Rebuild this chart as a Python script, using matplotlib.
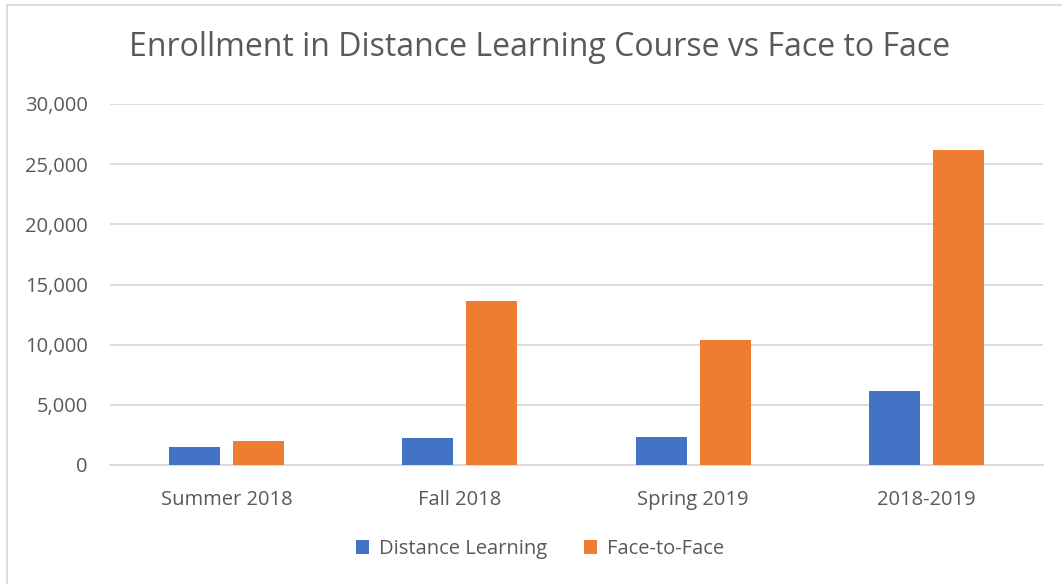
import numpy as np
import matplotlib
matplotlib.use("Agg")
import matplotlib.pyplot as plt
from matplotlib.lines import Line2D
from matplotlib.ticker import FuncFormatter

terms = ["Summer 2018", "Fall 2018", "Spring 2019", "2018-2019"]
distance = [1520, 2270, 2300, 6180]
face_to_face = [2020, 13650, 10390, 26180]
series_names = ["Distance Learning", "Face-to-Face"]

plt.rcParams['font.family'] = ['Open Sans', 'DejaVu Sans']

fig = plt.figure(figsize=(10.62, 5.84), dpi=100)
ax = fig.add_axes([110 / 1062, 1 - 465 / 584, (1043 - 110) / 1062, (465 - 104) / 584])

x = np.arange(len(terms))
w = 0.219
off = 0.137
ax.bar(x - off, distance, w, color='#4472C4', label=series_names[0], zorder=3)
ax.bar(x + off, face_to_face, w, color='#ED7D31', label=series_names[1], zorder=3)

ax.set_xlim(-0.5, len(terms) - 0.5)
ax.set_ylim(0, 30000)
ax.set_yticks(range(0, 30001, 5000))
ax.yaxis.set_major_formatter(FuncFormatter(lambda v, p: f"{int(v):,}"))
ax.set_xticks(x)
ax.set_xticklabels(terms)
ax.grid(axis='y', color='#D9D9D9', linewidth=1.3, zorder=0)
for s in ['top', 'right', 'left']:
    ax.spines[s].set_visible(False)
ax.spines['bottom'].set_color('#D9D9D9')
ax.spines['bottom'].set_linewidth(1.3)
ax.tick_params(axis='both', length=0, labelsize=14.5, colors='#595959')
ax.tick_params(axis='y', pad=16)
ax.tick_params(axis='x', pad=18)

fig.text(0.5085, 1 - 47 / 584, "Enrollment in Distance Learning Course vs Face to Face",
         ha='center', va='center', fontsize=23, color='#595959')

ax.legend(loc='center', bbox_to_anchor=(0.5085, 1 - 549 / 584), bbox_transform=fig.transFigure,
          ncol=2, frameon=False, fontsize=14.5, labelcolor='#595959',
          handlelength=0.65, handleheight=0.65, handletextpad=0.5, columnspacing=1.8)

# chart border (top and left edges visible)
fig.add_artist(Line2D([7 / 1062, 7 / 1062], [0, 1 - 5 / 584], color='#D9D9D9', lw=1.3))
fig.add_artist(Line2D([7 / 1062, 1], [1 - 5 / 584, 1 - 5 / 584], color='#D9D9D9', lw=1.3))

fig.savefig("out.png", dpi=100)
